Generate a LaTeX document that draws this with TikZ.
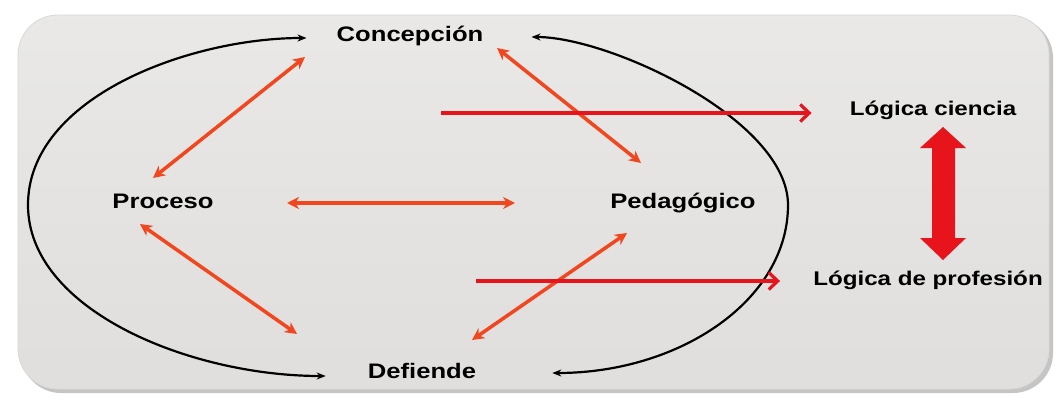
\documentclass[tikz,border=0pt]{standalone}
\usepackage{fontspec}
\newfontfamily\lab{Liberation Sans}[FakeStretch=1.22]
\usetikzlibrary{arrows.meta,shadows,calc}
\definecolor{bgpanel}{HTML}{E4E3E1}
\definecolor{orred}{HTML}{F2461E}
\definecolor{pured}{HTML}{E8141C}
\tikzset{
  lbl/.style={font=\lab\bfseries\fontsize{21}{24}\selectfont, text=black, inner sep=0pt, text height=15pt, text depth=4pt},
  lbls/.style={lbl, font=\lab\bfseries\fontsize{19.8}{23}\selectfont},
  blk/.style={draw=black, line width=2.2pt, {Stealth[length=9pt,width=7pt]}-{Stealth[length=9pt,width=7pt]}},
  rel/.style={draw=orred, line width=3.5pt, {Stealth[length=12pt,width=12pt]}-{Stealth[length=12pt,width=12pt]}},
  lin/.style={draw=pured, line width=3.4pt, -{Straight Barb[length=9pt,width=17pt,line width=3.2pt]}},
}
\begin{document}
\begin{tikzpicture}[x=1pt,y=-1pt]
\useasboundingbox (0,0) rectangle (1057,404);
\fill[white] (0,0) rectangle (1057,404);
% panel
\fill[black!45, opacity=0.5, rounded corners=40pt] (21,18) rectangle (1053,393);
\shade[rounded corners=40pt, top color=bgpanel!80!white, bottom color=bgpanel!98!black, middle color=bgpanel] (18,15) rectangle (1049,389);
\draw[white!85!black, line width=0.8pt, rounded corners=40pt] (18,15) rectangle (1049,389);
% nodes
\node[lbl] (con) at (410,36) {Concepción};
\node[lbl] (pro) at (163,203) {Proceso};
\node[lbl] (ped) at (683,203) {Pedagógico};
\node[lbl] (def) at (422,373) {Defiende};
\node[lbls] (lc) at (933,110) {Lógica ciencia};
\node[lbls] (lp) at (928,280) {Lógica de profesión};
% black curves
\coordinate (lt) at ($(con.west)+(-30,2)$);
\coordinate (lb) at ($(def.west)+(-42,3)$);
\coordinate (rt) at ($(con.east)+(48,1)$);
\coordinate (rb) at ($(def.east)+(76,0)$);
\draw[blk] (lt) .. controls (190,38) and (28,97) .. (28,205)
  .. controls (28,310) and (190,376) .. (lb);
\draw[blk] (rt) .. controls (610,37) and (788,120) .. (788,205)
  .. controls (788,300) and (680,373) .. (rb);
% orange relations
\draw[rel] ($(pro)+(-10,-25)$) -- ($(con)+(-105,21)$);
\draw[rel] ($(pro)+(-23,21)$) -- ($(def)+(-125,-39)$);
\draw[rel] ($(pro)+(124,0)$) -- ($(ped)+(-168,0)$);
\draw[rel] ($(con)+(87,12)$) -- ($(ped)+(-42,-40)$);
\draw[rel] ($(ped)+(-56,30)$) -- ($(def)+(50,-33)$);
% red lines
\coordinate (lcin) at ($(lc.west)+(-38,3)$);
\coordinate (lpin) at ($(lp.west)+(-33,1)$);
\draw[lin] (441,113) -- (lcin);
\draw[lin] (476,281) -- (lpin);
% block arrow
\fill[pured] (943,127) -- (966,148) -- (955,148) -- (955,238) -- (966,238) -- (943,260) -- (920,238) -- (932,238) -- (932,148) -- (920,148) -- cycle;
\end{tikzpicture}
\end{document}
